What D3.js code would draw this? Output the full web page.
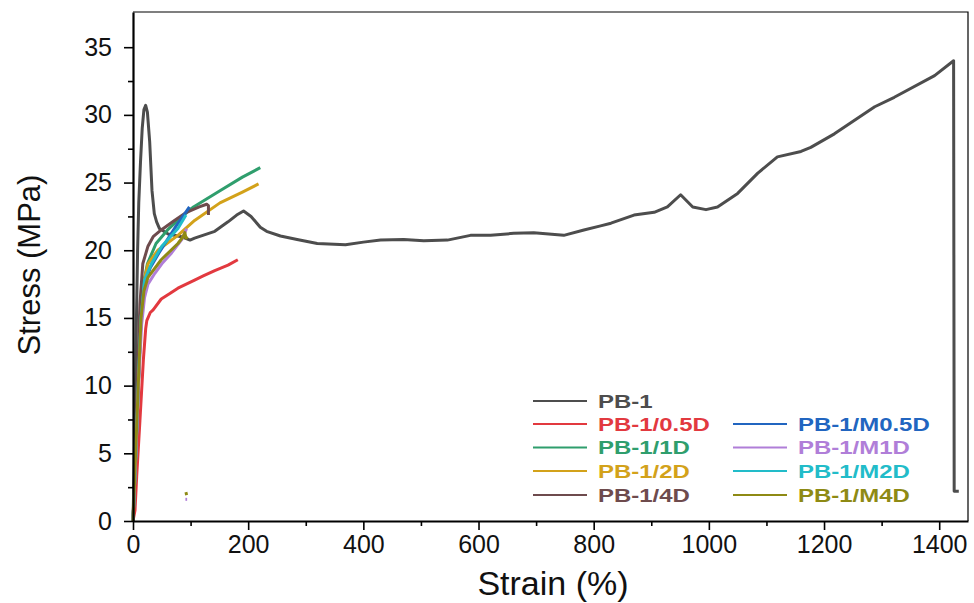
<!DOCTYPE html>
<html>
<head>
<meta charset="utf-8">
<script src="https://cdn.jsdelivr.net/npm/d3@7"></script>
<style>
  body { margin: 0; background: #fff; }
  text { font-family: "Liberation Sans", Arial, sans-serif; }
</style>
</head>
<body>
<div id="chart"></div>
<script>
const totalWidth = 974;
const totalHeight = 603;
const margin = { left: 133, right: 6, top: 12, bottom: 82 };
const width = totalWidth - margin.left - margin.right;
const height = totalHeight - margin.top - margin.bottom;

// strain (%), stress (MPa)
const pb1 = [[0,0],[2,4],[4,9],[6,15],[8,20],[10,23.5],[13,26.5],[16,29],[19,30.4],[22,30.7],[25,30.2],[29,28],[33,24.4],[37,22.7],[41,22.1],[46,21.6],[61,21.2],[84,21.0],[99,20.75],[107,20.9],[142,21.4],[165,22.1],[180,22.6],[192,22.9],[205,22.5],[221,21.7],[232,21.4],[256,21.05],[285,20.8],[320,20.5],[369,20.4],[400,20.6],[430,20.75],[470,20.8],[505,20.7],[546,20.75],[586,21.1],[621,21.1],[661,21.25],[696,21.3],[748,21.1],[783,21.5],[812,21.8],[830,22.0],[870,22.6],[905,22.8],[928,23.2],[951,24.1],[972,23.2],[995,23.0],[1015,23.2],[1050,24.2],[1085,25.7],[1119,26.9],[1160,27.3],[1177,27.6],[1218,28.6],[1288,30.6],[1322,31.3],[1392,32.9],[1425,34.0],[1426,2.2],[1434,2.2]];
const pb05D = [[0,0],[3.5,0.8],[6.4,3.3],[12,7.4],[18,11.9],[22,14.2],[24,14.8],[30,15.4],[35,15.6],[49,16.4],[64,16.8],[78,17.2],[107,17.8],[122,18.1],[142,18.5],[165,18.9],[182,19.3]];
const pb1D = [[0,0],[5,5],[10,11],[14,15],[18,17.5],[25,19],[40,20.5],[60,21.5],[80,22.3],[105,23.2],[151,24.4],[190,25.4],[221,26.1]];
const pb2D = [[0,0],[5,5],[10,10.5],[14,15],[18,17.5],[26,19],[43,20],[78,21.1],[107,22.2],[151,23.5],[190,24.3],[218,24.9]];
const pb4D = [[0,0],[4,5],[8,11],[12,16],[17,19],[26,20.3],[35,21],[49,21.5],[72,22.2],[93,22.8],[115,23.2],[128,23.4],[131,23.3],[131,22.6]];
const pbM05D = [[0,0],[5,5],[10,11],[14,15],[20,17.5],[30,18.7],[45,19.8],[60,20.8],[75,21.8],[90,22.7],[98,23.2]];
const pbM1D = [[0,0],[5,5],[10,10.5],[15,14.5],[20,16.5],[26,17.5],[38,18.3],[50,19],[67,19.8],[85,20.8],[93,21.6]];
const pbM2D = [[0,0],[5,5],[10,11],[14,15],[20,17.8],[32,19],[50,20.3],[65,21.0],[78,21.6],[92,22.6]];
const pbM4D = [[0,0],[5,5.5],[10,11],[14,15],[19,17],[26,18],[49,19.3],[78,20.5],[87,21],[90,21.3],[92,20.9],[95,21.0]];
// small fragments left after fracture
const tailM1D = [[91,1.6],[94,1.6]];
const tailM4D = [[90,2.0],[95,2.05]];

const names = ["PB-1", "PB-1/0.5D", "PB-1/1D", "PB-1/2D", "PB-1/4D", "PB-1/M0.5D", "PB-1/M1D", "PB-1/M2D", "PB-1/M4D"];
const colors = ["#4d4d4d", "#e2393f", "#2f9e6d", "#d3a21a", "#6e4b4d", "#2165c0", "#b07ed8", "#22bcc9", "#8e8a14"];
const seriesData = [pb1, pb05D, pb1D, pb2D, pb4D, pbM05D, pbM1D, pbM2D, pbM4D];

const xTicks = [0, 200, 400, 600, 800, 1000, 1200, 1400];
const xMinor = [100, 300, 500, 700, 900, 1100, 1300];
const yTicks = [0, 5, 10, 15, 20, 25, 30, 35];
const yMinor = [2.5, 7.5, 12.5, 17.5, 22.5, 27.5, 32.5];

const x = d3.scaleLinear().domain([0, 1450]).range([0, width]);
const y = d3.scaleLinear().domain([0, 37.6]).range([height, 0]);

const svg = d3.select("#chart").append("svg")
	.attr("width", totalWidth)
	.attr("height", totalHeight);

const g = svg.append("g").attr("transform", "translate(" + margin.left + "," + margin.top + ")");

// frame top/right
g.append("path")
	.attr("d", `M0,0H${width}V${height}`)
	.attr("fill", "none")
	.attr("stroke", "#000")
	.attr("stroke-width", 1.2);

const line = d3.line().x((d) => x(d[0])).y((d) => y(d[1]));

const drawOrder = [0, 1, 2, 3, 4, 5, 7, 6, 8];
for (const i of drawOrder) {
	g.append("path")
		.datum(seriesData[i])
		.attr("fill", "none")
		.attr("stroke", colors[i])
		.attr("stroke-width", 3)
		.attr("stroke-linejoin", "round")
		.attr("d", line);
}
[[tailM1D, colors[6]], [tailM4D, colors[8]]].forEach(([t, c]) => {
	g.append("path").datum(t)
		.attr("fill", "none").attr("stroke", c).attr("stroke-width", 3)
		.attr("d", line);
});

// axes
const xAxis = g.append("g")
	.attr("transform", "translate(0," + height + ")")
	.call(d3.axisBottom(x).tickValues(xTicks).tickFormat(d3.format("d")).tickSize(9).tickSizeOuter(0).tickPadding(5));
g.append("g")
	.attr("transform", "translate(0," + height + ")")
	.call(d3.axisBottom(x).tickValues(xMinor).tickSize(5).tickFormat(""))
	.select(".domain").remove();
const yAxis = g.append("g")
	.call(d3.axisLeft(y).tickValues(yTicks).tickSize(9).tickSizeOuter(0).tickPadding(12));
g.append("g")
	.call(d3.axisLeft(y).tickValues(yMinor).tickSize(5).tickFormat(""))
	.select(".domain").remove();

g.selectAll(".domain").attr("stroke-width", 2.2);
g.selectAll(".tick line").attr("stroke-width", 1.6);
xAxis.selectAll("text").attr("font-size", 25).attr("fill", "#111");
yAxis.selectAll("text").attr("font-size", 25).attr("fill", "#111");

svg.append("text")
	.attr("x", 553)
	.attr("y", 595)
	.attr("text-anchor", "middle")
	.attr("font-size", 34)
	.attr("fill", "#111")
	.text("Strain (%)");

svg.append("text")
	.attr("transform", "translate(40,265) rotate(-90)")
	.attr("text-anchor", "middle")
	.attr("font-size", 31)
	.attr("fill", "#111")
	.text("Stress (MPa)");

// legend (the lettering in the picture is wide, so it is stretched to fit)
const legendPos = [
	[533, 401], [533, 424], [533, 447.5], [533, 471], [533, 495],
	[733, 424], [733, 447.5], [733, 471], [733, 495]
];
names.forEach((name, i) => {
	const [lx, ly] = legendPos[i];
	svg.append("line")
		.attr("x1", lx).attr("x2", lx + 54)
		.attr("y1", ly).attr("y2", ly)
		.attr("stroke", colors[i])
		.attr("stroke-width", 2.2);
	const t = svg.append("text")
		.attr("x", lx + 65)
		.attr("y", ly + 6.5)
		.attr("font-size", 18)
		.attr("font-weight", "bold")
		.attr("fill", colors[i])
		.text(name);
	const w = t.node().getComputedTextLength();
	t.attr("textLength", w * 1.33).attr("lengthAdjust", "spacingAndGlyphs");
});
</script>
</body>
</html>
